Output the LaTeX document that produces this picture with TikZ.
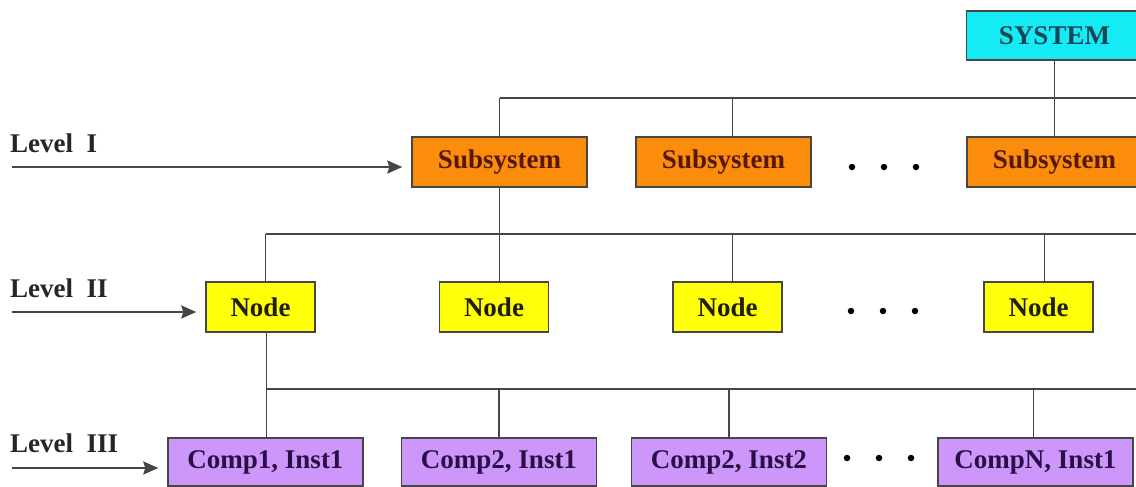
\documentclass[tikz,border=0pt]{standalone}
\usepackage{fontspec}
\setmainfont{Liberation Serif}
\usetikzlibrary{arrows.meta}
\definecolor{syscol}{RGB}{20,235,245}
\definecolor{subcol}{RGB}{252,140,12}
\definecolor{nodecol}{RGB}{255,255,10}
\definecolor{compcol}{RGB}{205,150,250}
\definecolor{linecol}{RGB}{70,70,70}
\definecolor{systxt}{RGB}{25,70,85}
\definecolor{subtxt}{RGB}{85,25,10}
\definecolor{comptxt}{RGB}{40,15,70}
\definecolor{nodetxt}{RGB}{30,30,10}
\tikzset{
  box/.style={draw=linecol, line width=1.4pt, inner sep=0pt, anchor=center,
    font=\fontsize{27}{30}\selectfont\bfseries},
  sysbox/.style={box, fill=syscol, text=systxt, minimum width=176pt, minimum height=49pt},
  subbox/.style={box, fill=subcol, text=subtxt, minimum width=175pt, minimum height=50pt},
  nodebox/.style={box, fill=nodecol, text=nodetxt, minimum width=109pt, minimum height=50pt},
  compbox/.style={box, fill=compcol, text=comptxt, minimum width=195pt, minimum height=48pt},
  wire/.style={draw=linecol, line width=1.5pt},
  arr/.style={draw=linecol, line width=2pt, -{Stealth[length=15pt,width=13pt,inset=2pt]}, shorten >=9pt},
  lvl/.style={anchor=base west, inner sep=0pt, font=\fontsize{27}{30}\selectfont\bfseries, text=black!85},
  dot/.style={circle, fill=black, inner sep=0pt, minimum size=6.5pt}
}
\begin{document}
\begin{tikzpicture}[x=1pt,y=-1pt]
\useasboundingbox (0,0) rectangle (1136,487);
\clip (0,0) rectangle (1136,487);
\fill[white] (0,0) rectangle (1136,487);

% boxes
\node[sysbox] (sys) at (1054.5,35.5) {SYSTEM};
\node[subbox] (sub1) at (499.5,162) {Subsystem};
\node[subbox] (sub2) at (723.5,162) {Subsystem};
\node[subbox] (sub3) at (1054.5,162) {Subsystem};

\node[nodebox] (n1) at (260.5,307) {Node};
\node[nodebox] (n2) at (494,307) {Node};
\node[nodebox] (n3) at (727.5,307) {Node};
\node[nodebox] (n4) at (1038.5,307) {Node};

\node[compbox] (c1) at (265.5,462) {Comp1, Inst1};
\node[compbox] (c2) at (499,462) {Comp2, Inst1};
\node[compbox] (c3) at (729,462) {Comp2, Inst2};
\node[compbox] (c4) at (1035.5,462) {CompN, Inst1};

% ellipsis dots
\foreach \i/\x in {1/852,2/884,3/916} {
  \node[dot] (da\i) at (\x,167) {};
  \node[dot] (db\i) at (\x-1,311) {};
  \node[dot] (dc\i) at (\x-5,458) {};
}

% bus coordinates and drop points
\coordinate (b1L) at (499.5,98);
\coordinate (b1R) at (1140,98);
\coordinate (b2L) at (265.5,234);
\coordinate (b2R) at (1140,234);
\coordinate (b3L) at (266.5,389);
\coordinate (b3R) at (1140,389);
\coordinate (d12) at (732.5,98);
\coordinate (d23) at (732.5,234);
\coordinate (d24) at (1044.5,234);
\coordinate (d34) at (1033.5,389);

% level I
\draw[wire] (b1L) -- (b1R);
\draw[wire] (sys.south) -- (sub3.north);
\draw[wire] (b1L) -- (b1L |- sub1.north);
\draw[wire] (d12) -- (d12 |- sub2.north);

% level II
\draw[wire] (b2L) -- (b2R);
\draw[wire] (b1L |- sub1.south) -- (b1L |- n2.north);
\draw[wire] (b2L) -- (b2L |- n1.north);
\draw[wire] (d23) -- (d23 |- n3.north);
\draw[wire] (d24) -- (d24 |- n4.north);

% level III
\draw[wire] (b3L) -- (b3R);
\draw[wire] (b3L |- n1.south) -- (b3L |- c1.north);
\draw[wire] (c2.north |- b3L) -- (c2.north);
\draw[wire] (c3.north |- b3L) -- (c3.north);
\draw[wire] (d34) -- (d34 |- c4.north);

% level labels and arrows
\node[lvl] (l1) at (10,152) {Level\ \ I};
\node[lvl] (l2) at (10,297) {Level\ \ II};
\node[lvl] (l3) at (10,452) {Level\ \ III};
\coordinate (a1) at (12,167);
\coordinate (a2) at (12,312);
\coordinate (a3) at (12,468);
\draw[arr] (a1) -- (sub1.west |- a1);
\draw[arr] (a2) -- (n1.west |- a2);
\draw[arr] (a3) -- (c1.west |- a3);
\end{tikzpicture}
\end{document}
